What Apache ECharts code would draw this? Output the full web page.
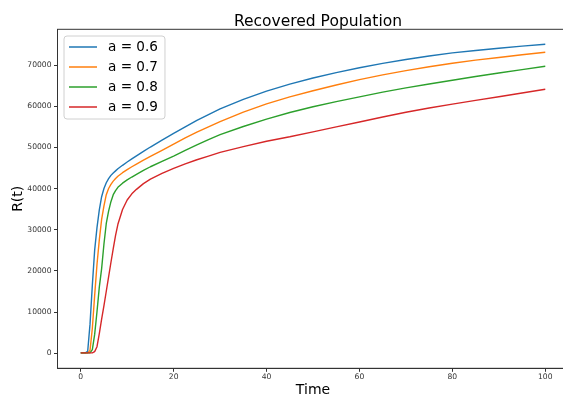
<!DOCTYPE html>
<html>
<head>
<meta charset="utf-8">
<script src="https://cdn.jsdelivr.net/npm/echarts@6/dist/echarts.min.js"></script>
<style>
  html, body { margin: 0; padding: 0; background: #fff; }
  #chart { width: 563px; height: 401px; }
</style>
</head>
<body>
<div id="chart"></div>
<script>
// Time samples (shared by every curve)
const time = [0, 1, 1.5, 2, 2.5, 3, 3.5, 4, 4.5, 5, 5.5, 6, 6.5, 7, 7.5, 8, 9, 10, 11, 12, 13.5, 15, 17.5, 20, 22.5, 25, 27.5, 30, 35, 40, 45, 50, 55, 60, 65, 70, 75, 80, 85, 90, 95, 100];

// Recovered population R(t) for each value of a
const recovered06 = [0, 0, 400, 7000, 16500, 25000, 30500, 34800, 38000, 40000, 41400, 42400, 43200, 43800, 44300, 44800, 45650, 46450, 47200, 47950, 49050, 50100, 51800, 53400, 55000, 56600, 58000, 59400, 61700, 63700, 65400, 66900, 68200, 69400, 70450, 71400, 72250, 73000, 73600, 74150, 74650, 75100];
const recovered07 = [0, 0, 0, 600, 6000, 14000, 21500, 27500, 32500, 35800, 38500, 40000, 41000, 41800, 42450, 43000, 43850, 44600, 45300, 45950, 46900, 47800, 49300, 50800, 52300, 53700, 55000, 56300, 58600, 60600, 62300, 63800, 65200, 66500, 67650, 68700, 69650, 70500, 71250, 71900, 72550, 73160];
const recovered08 = [0, 0, 0, 0, 800, 4500, 10000, 16000, 20500, 26500, 31500, 34500, 36800, 38500, 39500, 40300, 41300, 42100, 42800, 43450, 44400, 45300, 46600, 47900, 49300, 50600, 51900, 53100, 55100, 56900, 58500, 59900, 61150, 62300, 63450, 64500, 65450, 66350, 67250, 68100, 68950, 69760];
const recovered09 = [0, 0, 0, 0, 0, 300, 1500, 4700, 8200, 11500, 15000, 18500, 22000, 25400, 28600, 31300, 34900, 37200, 38700, 39800, 41200, 42300, 43700, 44900, 46000, 47000, 47900, 48800, 50200, 51500, 52600, 53800, 55000, 56200, 57400, 58550, 59600, 60550, 61450, 62350, 63250, 64160];

const seriesNames = ['a = 0.6', 'a = 0.7', 'a = 0.8', 'a = 0.9'];
const seriesValues = [recovered06, recovered07, recovered08, recovered09];
const seriesColors = ['#1f77b4', '#ff7f0e', '#2ca02c', '#d62728'];

const xTicks = [0, 20, 40, 60, 80, 100];
const yTicks = [0, 10000, 20000, 30000, 40000, 50000, 60000, 70000];

const FONT = 'DejaVu Sans';

const chart = echarts.init(document.getElementById('chart'), null, { renderer: 'canvas' });

chart.setOption({
  animation: false,
  backgroundColor: '#ffffff',
  title: {
    text: 'Recovered Population',
    left: 313,
    top: 9,
    textAlign: 'center',
    textStyle: { fontFamily: FONT, fontSize: 15.5, fontWeight: 'normal', color: '#000' }
  },
  legend: {
    orient: 'vertical',
    left: 64,
    top: 36,
    padding: [4, 7, 5, 5],
    icon: 'rect',
    itemWidth: 28,
    itemHeight: 1.5,
    itemGap: 6,
    backgroundColor: 'rgba(255,255,255,0.8)',
    borderColor: '#d0d0d0',
    borderWidth: 1,
    borderRadius: 3,
    textStyle: { fontFamily: FONT, fontSize: 13.6, color: '#000', lineHeight: 14, padding: [0, 0, 0, 6] },
    data: seriesNames
  },
  grid: {
    left: 57.5,
    top: 29.3,
    width: 511,
    height: 339,
    show: true,
    borderColor: '#333',
    borderWidth: 1,
    containLabel: false,
    outerBoundsMode: 'none'
  },
  xAxis: {
    type: 'value',
    min: -5,
    max: 105,
    name: 'Time',
    nameLocation: 'middle',
    nameGap: 15,
    nameMoveOverlap: false,
    nameTextStyle: { fontFamily: FONT, fontSize: 14, color: '#000' },
    axisLine: { show: true, onZero: false, lineStyle: { color: '#333', width: 1 } },
    axisTick: { show: true, length: 3.5, lineStyle: { color: '#333' }, customValues: xTicks },
    axisLabel: { fontFamily: FONT, fontSize: 7.6, color: '#333', margin: 5, customValues: xTicks, formatter: v => String(v) },
    splitLine: { show: false }
  },
  yAxis: {
    type: 'value',
    min: -3750,
    max: 78750,
    name: 'R(t)',
    nameLocation: 'middle',
    nameGap: 32,
    nameMoveOverlap: false,
    nameTextStyle: { fontFamily: FONT, fontSize: 14, color: '#000' },
    axisLine: { show: true, onZero: false, lineStyle: { color: '#333', width: 1 } },
    axisTick: { show: true, length: 3.5, lineStyle: { color: '#333' }, customValues: yTicks },
    axisLabel: { fontFamily: FONT, fontSize: 7.6, color: '#333', margin: 6, customValues: yTicks, formatter: v => String(v) },
    splitLine: { show: false }
  },
  series: seriesNames.map((name, i) => ({
    name: name,
    type: 'line',
    data: time.map((t, j) => [t, seriesValues[i][j]]),
    symbol: 'none',
    smooth: false,
    color: seriesColors[i],
    lineStyle: { color: seriesColors[i], width: 1.4 }
  }))
});
</script>
</body>
</html>
